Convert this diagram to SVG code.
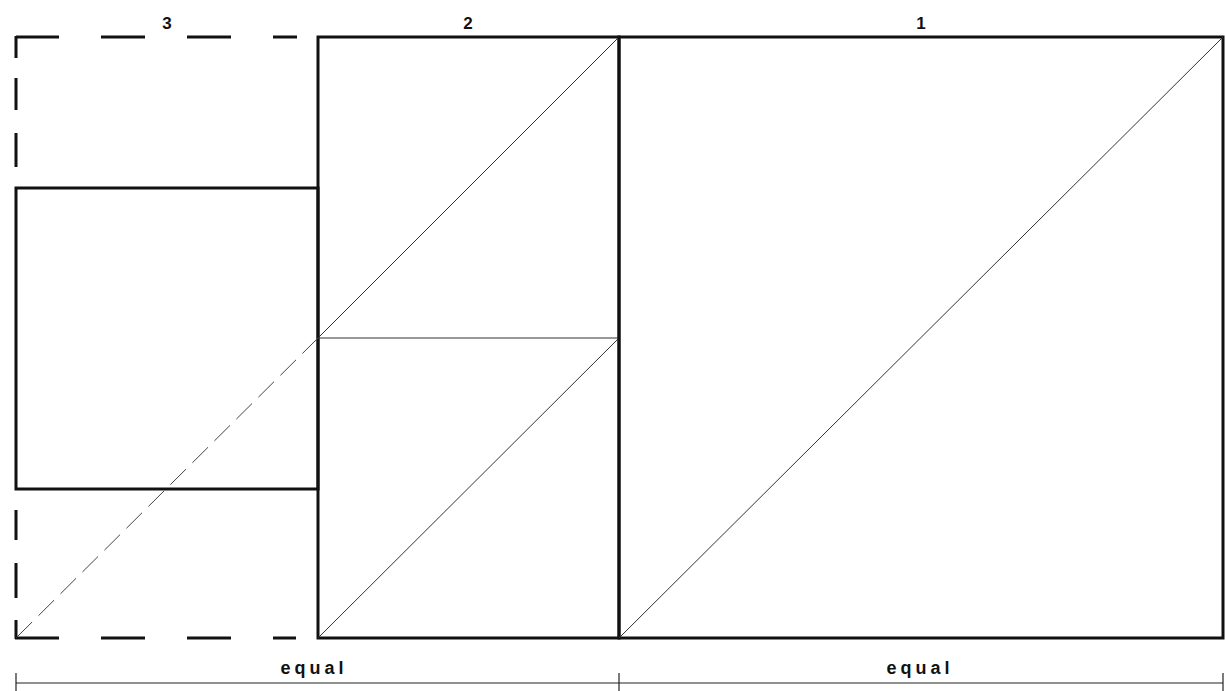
<svg xmlns="http://www.w3.org/2000/svg" width="1225" height="691" viewBox="0 0 1225 691">
<style>
.heavy{stroke:#111;stroke-width:3;fill:none;stroke-linecap:square}
.dash{stroke:#111;stroke-width:3;fill:none;stroke-linecap:butt}
.thin{stroke:#333;stroke-width:1;fill:none}
.thindash{stroke:#444;stroke-width:1;fill:none;stroke-dasharray:22 9}
.dim{stroke:#222;stroke-width:1.2;fill:none}
.lbl{font-family:"Liberation Sans",Arial,sans-serif;font-weight:bold;font-size:17px;fill:#111;text-anchor:middle}
.eq{font-family:"Liberation Sans",Arial,sans-serif;font-weight:bold;font-size:18px;fill:#111;text-anchor:middle;letter-spacing:4px}
</style>
<rect width="1225" height="691" fill="#fff"/>
<g id="square3">
<path class="dash" d="M16,37 H59 M101,37 H145 M187,37 H231 M273,37 H297"/>
<path class="dash" d="M16,36 V58 M16,78 V110 M16,133 V167"/>
<path class="dash" d="M16,510 V540 M16,563 V598 M16,620 V639"/>
<path class="dash" d="M15,638 H59 M101,638 H145 M187,638 H231 M273,638 H296"/>
<rect class="heavy" x="16" y="188" width="302" height="301"/>
</g>
<g id="square2">
<rect class="heavy" x="318" y="37" width="301" height="601"/>
<line class="thin" x1="318" y1="338" x2="619" y2="338"/>
<line class="thin" x1="318" y1="338" x2="619" y2="37"/>
<line class="thin" x1="318" y1="638" x2="619" y2="338"/>
</g>
<g id="square1">
<rect class="heavy" x="619" y="37" width="604" height="601"/>
<line class="thin" x1="619" y1="638" x2="1223" y2="37"/>
</g>
<g id="connectors">
<line class="thindash" x1="318" y1="338" x2="16" y2="638"/>
<line class="dim" x1="16" y1="683" x2="1223" y2="683"/>
<line class="dim" x1="16" y1="673" x2="16" y2="691"/>
<line class="dim" x1="619" y1="673" x2="619" y2="691"/>
<line class="dim" x1="1223" y1="673" x2="1223" y2="691"/>
</g>
<g id="labels">
<text class="lbl" x="167" y="29">3</text>
<text class="lbl" x="468" y="29">2</text>
<text class="lbl" x="921" y="29">1</text>
<text class="eq" x="314" y="674">equal</text>
<text class="eq" x="920" y="674">equal</text>
</g>
</svg>
